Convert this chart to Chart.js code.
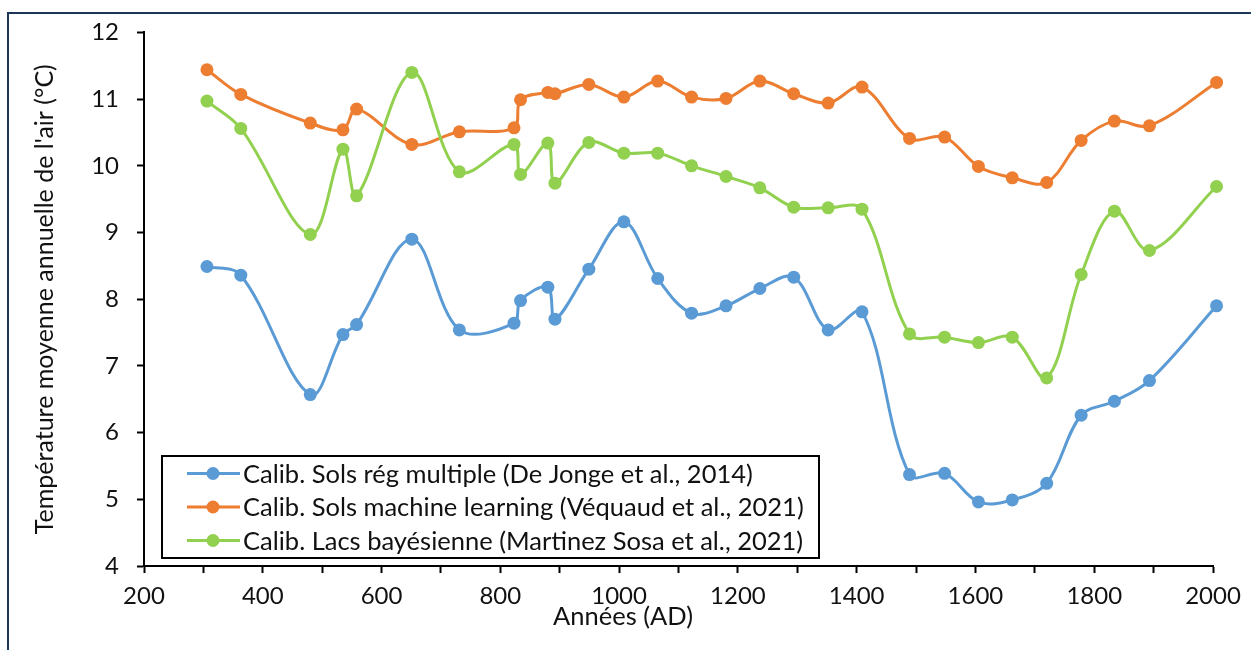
<!DOCTYPE html>
<html>
<head>
<meta charset="utf-8">
<script src="https://cdn.jsdelivr.net/npm/chart.js@4.4.1/dist/chart.umd.min.js"></script>
<style>
  html, body { margin: 0; padding: 0; background: #fff; }
  #wrap { position: relative; width: 1251px; height: 650px; overflow: hidden; }
  #frame { position: absolute; left: 7px; top: 12px; width: 1300px; height: 700px;
           border-top: 2px solid #1c3657; border-left: 2px solid #1c3657; }
  canvas { position: absolute; left: 0; top: 0; }
</style>
</head>
<body>
<div id="wrap">
  <div id="frame"></div>
  <canvas id="chart" width="1251" height="650"></canvas>
</div>
<script>
const years = [306, 363, 480, 535, 558, 651, 731, 823, 834, 880, 892, 949, 1008, 1065, 1122, 1180, 1237, 1294, 1352, 1409, 1489, 1548, 1605, 1662, 1720, 1778, 1834, 1893, 2006];
const solsRegMultiple = [8.49, 8.36, 6.57, 7.47, 7.62, 8.90, 7.54, 7.64, 7.98, 8.18, 7.70, 8.45, 9.16, 8.31, 7.79, 7.90, 8.16, 8.33, 7.54, 7.81, 5.37, 5.39, 4.96, 4.99, 5.24, 6.26, 6.47, 6.78, 7.90];
const solsMachineLearning = [11.44, 11.07, 10.64, 10.54, 10.85, 10.32, 10.51, 10.57, 10.99, 11.10, 11.08, 11.22, 11.03, 11.27, 11.03, 11.01, 11.27, 11.08, 10.94, 11.18, 10.41, 10.43, 9.99, 9.82, 9.75, 10.38, 10.67, 10.60, 11.25];
const lacsBayesienne = [10.97, 10.56, 8.97, 10.25, 9.55, 11.40, 9.91, 10.32, 9.87, 10.34, 9.74, 10.35, 10.19, 10.19, 10.00, 9.84, 9.67, 9.38, 9.37, 9.35, 7.48, 7.43, 7.35, 7.43, 6.82, 8.37, 9.32, 8.73, 9.69];

const seriesLabels = [
  "Calib. Sols rég multiple (De Jonge et al., 2014)",
  "Calib. Sols machine learning (Véquaud et al., 2021)",
  "Calib. Lacs bayésienne (Martinez Sosa et al., 2021)",
];
const seriesColors = ["#5B9BD5", "#ED7D31", "#92D050"];
const xTitle = "Années (AD)";
const yTitle = "Température moyenne annuelle de l'air (°C)";

const FONT = "Lato";
Chart.defaults.font.family = FONT;
Chart.defaults.color = "#111";

const makeSeries = (values, i) => ({
  label: seriesLabels[i],
  data: years.map((yr, k) => ({ x: yr, y: values[k] })),
  borderColor: seriesColors[i],
  backgroundColor: seriesColors[i],
  pointBackgroundColor: seriesColors[i],
  pointBorderColor: seriesColors[i],
  borderWidth: 3,
  pointRadius: 6.5,
  pointBorderWidth: 0,
  tension: 0.35,
  clip: false,
  order: 3 - i,
});

// legend drawn inside the plot, like the original
const legendBox = {
  id: "legendBox",
  afterDraw(chart) {
    const { ctx, chartArea } = chart;
    const x = chartArea.left + 18;
    const y = chartArea.bottom - 110;
    const w = 657, h = 102;
    ctx.save();
    ctx.fillStyle = "#fff";
    ctx.fillRect(x, y, w, h);
    ctx.lineWidth = 2;
    ctx.strokeStyle = "#000";
    ctx.strokeRect(x, y, w, h);
    ctx.font = "25.5px " + FONT;
    ctx.textBaseline = "middle";
    ctx.textAlign = "left";
    chart.data.datasets.forEach((ds, i) => {
      const cy = y + 17.5 + i * 33.5;
      ctx.strokeStyle = ds.borderColor;
      ctx.lineWidth = 3;
      ctx.beginPath();
      ctx.moveTo(x + 25, cy);
      ctx.lineTo(x + 78, cy);
      ctx.stroke();
      ctx.fillStyle = ds.borderColor;
      ctx.beginPath();
      ctx.arc(x + 51, cy, 6.5, 0, Math.PI * 2);
      ctx.fill();
      ctx.fillStyle = "#111";
      ctx.fillText(ds.label, x + 81, cy + 1);
    });
    ctx.restore();
  },
};

// x title sits left of centre and overlaps the tick labels
const xAxisTitle = {
  id: "xAxisTitle",
  afterDraw(chart) {
    const { ctx, chartArea } = chart;
    ctx.save();
    ctx.font = "25.5px " + FONT;
    ctx.fillStyle = "#111";
    ctx.textAlign = "center";
    ctx.textBaseline = "middle";
    ctx.fillText(xTitle, chartArea.left + 479, 617);
    ctx.restore();
  },
};

new Chart(document.getElementById("chart").getContext("2d"), {
  type: "line",
  data: {
    datasets: [
      makeSeries(solsRegMultiple, 0),
      makeSeries(solsMachineLearning, 1),
      makeSeries(lacsBayesienne, 2),
    ],
  },
  options: {
    responsive: false,
    animation: false,
    devicePixelRatio: 1,
    layout: { padding: { left: 0, right: 38, top: 29, bottom: 0 } },
    scales: {
      x: {
        type: "linear",
        min: 200,
        max: 2000,
        afterFit: (s) => { s.height = 84; },
        ticks: {
          stepSize: 100,
          autoSkip: false,
          maxRotation: 0,
          padding: 9,
          color: "#111",
          font: { size: 24 },
          callback: (v) => (v % 200 === 0 ? v : ""),
        },
        grid: { drawOnChartArea: false, drawTicks: true, tickLength: 7, tickWidth: 2, tickColor: "#000" },
        border: { display: true, color: "#000", width: 2 },
      },
      y: {
        min: 4,
        max: 12,
        afterFit: (s) => { s.width = 144; },
        ticks: { stepSize: 1, padding: 18, color: "#111", font: { size: 24 } },
        grid: { drawOnChartArea: false, drawTicks: true, tickLength: 7, tickWidth: 2, tickColor: "#000" },
        border: { display: true, color: "#000", width: 2 },
        title: {
          display: true,
          text: yTitle,
          color: "#111",
          font: { size: 25 },
          padding: { top: 30, bottom: 0 },
        },
      },
    },
    plugins: {
      legend: { display: false },
      tooltip: { enabled: false },
    },
  },
  plugins: [legendBox, xAxisTitle],
});
</script>
</body>
</html>
